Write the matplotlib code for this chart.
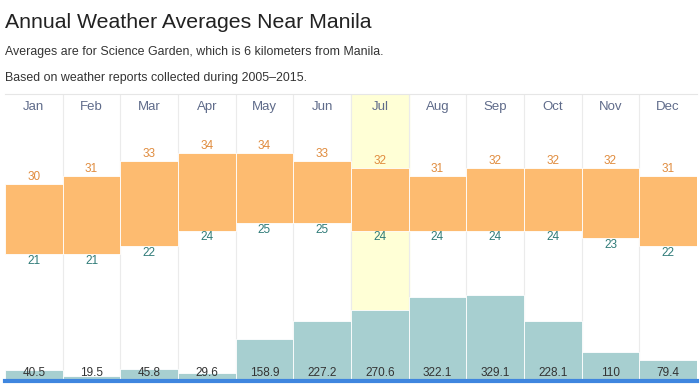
import numpy as np
import matplotlib.pyplot as plt

plt.rcParams['font.family'] = ['Liberation Sans', 'DejaVu Sans']

months = ['Jan', 'Feb', 'Mar', 'Apr', 'May', 'Jun',
          'Jul', 'Aug', 'Sep', 'Oct', 'Nov', 'Dec']
high_temp = [30, 31, 33, 34, 34, 33, 32, 31, 32, 32, 32, 31]
low_temp = [21, 21, 22, 24, 25, 25, 24, 24, 24, 24, 23, 22]
precip = [40.5, 19.5, 45.8, 29.6, 158.9, 227.2, 270.6, 322.1, 329.1, 228.1, 110, 79.4]
precip_labels = ['40.5', '19.5', '45.8', '29.6', '158.9', '227.2',
                 '270.6', '322.1', '329.1', '228.1', '110', '79.4']
current_month = 6  # Jul is highlighted

W, H = 700, 385
fig = plt.figure(figsize=(W / 100, H / 100), dpi=100)

# titles
fig.text(5 / W, 1 - 22 / H, 'Annual Weather Averages Near Manila',
         fontsize=15.3, color='#222222', va='center', ha='left')
fig.text(5 / W, 1 - 52 / H, 'Averages are for Science Garden, which is 6 kilometers from Manila.',
         fontsize=8.9, color='#333333', va='center', ha='left')
fig.text(5 / W, 1 - 78 / H, 'Based on weather reports collected during 2005\u20132015.',
         fontsize=8.9, color='#333333', va='center', ha='left')

# chart area in pixels
left, right, top, bottom = 5, 697, 94, 381
ax = fig.add_axes([left / W, 1 - bottom / H, (right - left) / W, (bottom - top) / H])
x = np.arange(len(months))

ax.set_xlim(-0.5, 11.5)
ax.set_ylim(4.6, 41.6)

# highlight current month
ax.axvspan(current_month - 0.5, current_month + 0.5, color='#ffffd6', zorder=0)

# column separators
for b in np.arange(0.5, 11.5, 1):
    ax.axvline(b, color='#ebebeb', linewidth=0.8, zorder=0.5)

# temperature range bars
lows = np.array(low_temp)
highs = np.array(high_temp)
ax.bar(x, highs - lows, bottom=lows, width=1.0, color='#fdbb70',
       edgecolor='white', linewidth=0.6, zorder=2)

for i in range(len(months)):
    ax.text(i, highs[i] + 0.9, str(high_temp[i]), ha='center', va='center',
            fontsize=8.5, color='#e08c3e', zorder=3)
    ax.text(i, lows[i] - 0.9, str(low_temp[i]), ha='center', va='center',
            fontsize=8.5, color='#2f7b78', zorder=3)
    ax.text(i, 1 - 13 / (bottom - top), months[i], transform=ax.get_xaxis_transform(),
            ha='center', va='center', fontsize=9.5, color='#5f6b8a', zorder=3)

ax.set_xticks([])
ax.set_yticks([])
for s in ['left', 'right', 'bottom']:
    ax.spines[s].set_visible(False)
ax.spines['top'].set_color('#e6e6e6')
ax.spines['top'].set_linewidth(0.8)

# precipitation bars
ax2 = ax.twinx()
ax2.set_ylim(0, 1095)
ax2.bar(x, precip, width=1.0, color='#a7cfd0', edgecolor='white', linewidth=0.6, zorder=2)
for i in range(len(months)):
    ax2.text(i, 8 / (bottom - top), precip_labels[i], transform=ax2.get_xaxis_transform(),
             ha='center', va='center', fontsize=8.5, color='#333333', zorder=3)
ax2.set_yticks([])
for s in ['left', 'right', 'top']:
    ax2.spines[s].set_visible(False)
ax2.spines['bottom'].set_color('#3f86df')
ax2.spines['bottom'].set_linewidth(3)
ax2.spines['bottom'].set_zorder(5)

fig.savefig('out.png', dpi=100)
